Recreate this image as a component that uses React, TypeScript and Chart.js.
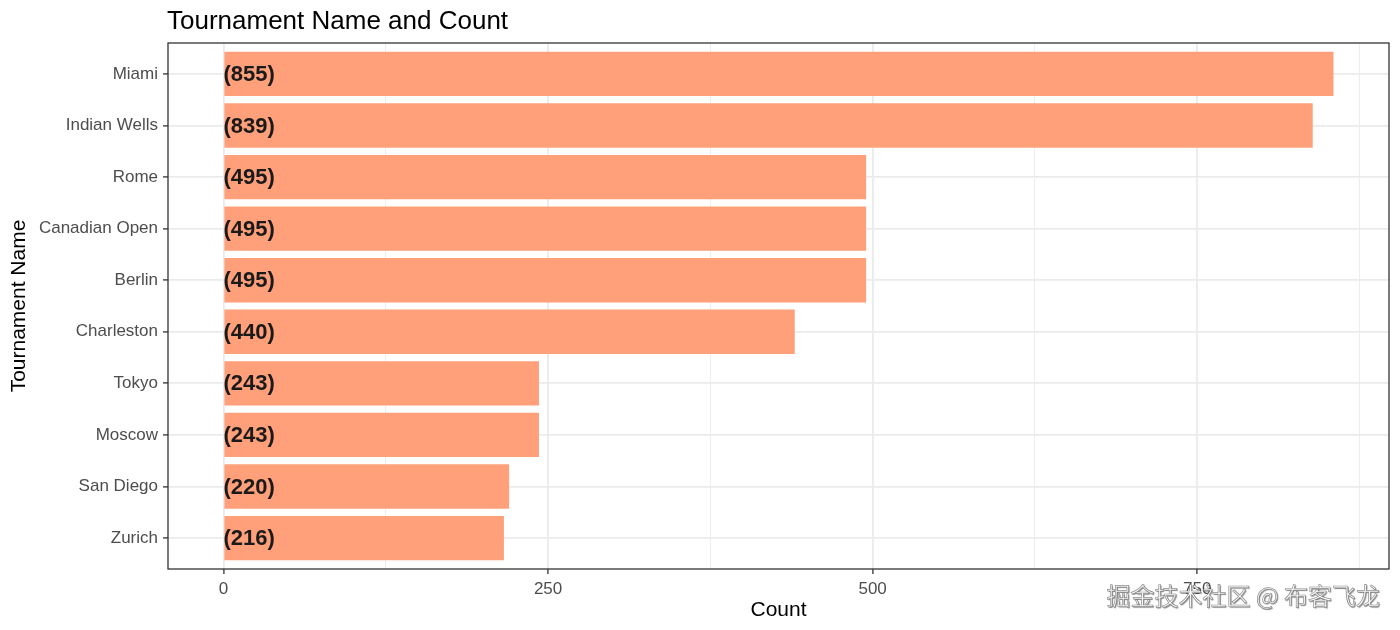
import React, { useEffect, useRef } from 'react';
import { Chart, registerables } from 'chart.js';
Chart.register(...registerables);

const tournaments = ['Miami', 'Indian Wells', 'Rome', 'Canadian Open', 'Berlin', 'Charleston', 'Tokyo', 'Moscow', 'San Diego', 'Zurich'];
const counts = [855, 839, 495, 495, 495, 440, 243, 243, 220, 216];
const xMajorTicks = [0, 250, 500, 750];
const xMinorTicks = [125, 375, 625, 875];
const titleText = 'Tournament Name and Count';
const xTitle = 'Count';
const yTitle = 'Tournament Name';
const watermark = '掘金技术社区 @ 布客飞龙';

const FONT = '"Liberation Sans", Arial, sans-serif';

const decorPlugin = {
  id: 'decor',
  afterDatasetsDraw(chart: any) {
    const ctx = chart.ctx;
    const xs = chart.scales.x;
    const meta = chart.getDatasetMeta(0);
    ctx.save();
    ctx.font = `bold 22px ${FONT}`;
    ctx.fillStyle = '#1a1a1a';
    ctx.textBaseline = 'middle';
    ctx.textAlign = 'left';
    const x0 = xs.getPixelForValue(0);
    meta.data.forEach((bar: any, i: number) => {
      ctx.fillText(`(${counts[i]})`, x0, bar.y + 1);
    });
    ctx.restore();
  },
  afterDraw(chart: any) {
    const ctx = chart.ctx;
    const a = chart.chartArea;
    ctx.save();
    ctx.strokeStyle = '#333333';
    ctx.lineWidth = 1.3;
    ctx.strokeRect(a.left, a.top, a.right - a.left, a.bottom - a.top);

    ctx.fillStyle = '#000';
    ctx.font = `26px ${FONT}`;
    ctx.textAlign = 'left';
    ctx.textBaseline = 'alphabetic';
    ctx.fillText(titleText, 167, 29);

    ctx.font = `21px ${FONT}`;
    ctx.textAlign = 'center';
    ctx.textBaseline = 'middle';
    ctx.fillText(xTitle, (a.left + a.right) / 2, 610);

    ctx.save();
    ctx.translate(19, (a.top + a.bottom) / 2);
    ctx.rotate(-Math.PI / 2);
    ctx.fillText(yTitle, 0, 0);
    ctx.restore();

    ctx.font = `24px "Noto Sans CJK SC", sans-serif`;
    ctx.textAlign = 'right';
    ctx.textBaseline = 'middle';
    ctx.shadowColor = 'rgba(0,0,0,0.45)';
    ctx.shadowOffsetX = 1;
    ctx.shadowOffsetY = 1;
    ctx.shadowBlur = 1;
    ctx.fillStyle = '#f7f7f7';
    ctx.fillText(watermark, 1380, 596);
    ctx.shadowColor = 'transparent';
    ctx.strokeStyle = 'rgba(100,100,100,0.7)';
    ctx.lineWidth = 0.7;
    ctx.strokeText(watermark, 1380, 596);
    ctx.restore();
  },
};

export default function App() {
  const ref = useRef<HTMLCanvasElement>(null);
  useEffect(() => {
    const canvas = ref.current;
    if (!canvas) return;
    const isMajor = (v: number) => xMajorTicks.includes(v);
    const chart = new Chart(canvas, {
      type: 'bar',
      data: {
        datasets: [
          {
            data: counts.map((v, i) => ({ x: v, y: i })),
            backgroundColor: '#FFA07A',
            borderWidth: 0,
            barPercentage: 0.86,
            categoryPercentage: 1,
          },
        ],
      },
      options: {
        indexAxis: 'y',
        responsive: false,
        animation: false,
        devicePixelRatio: 1,
        layout: { padding: { top: 43, right: 11, left: 0, bottom: 0 } },
        plugins: { legend: { display: false }, tooltip: { enabled: false }, title: { display: false } },
        scales: {
          x: {
            type: 'linear',
            min: -42.75,
            max: 897.75,
            offset: false,
            afterBuildTicks: (s: any) => {
              s.ticks = [...xMajorTicks, ...xMinorTicks].sort((p, q) => p - q).map((v) => ({ value: v }));
            },
            afterFit: (s: any) => {
              s.height = 61;
            },
            ticks: {
              callback: (v: any) => (isMajor(Number(v)) ? String(v) : ''),
              autoSkip: false,
              maxRotation: 0,
              color: '#4D4D4D',
              font: { family: FONT, size: 17 },
              padding: 5,
            },
            grid: {
              offset: false,
              color: '#EBEBEB',
              lineWidth: (c: any) => (c.tick && isMajor(c.tick.value) ? 1.8 : 0.9),
              tickLength: 5,
              tickColor: (c: any) => (c.tick && isMajor(c.tick.value) ? '#333333' : 'rgba(0,0,0,0)'),
              tickWidth: 1.3,
            },
            border: { display: false },
          },
          y: {
            type: 'linear',
            reverse: true,
            min: -0.6,
            max: 9.6,
            offset: false,
            afterBuildTicks: (s: any) => {
              s.ticks = tournaments.map((_, i) => ({ value: i }));
            },
            afterFit: (s: any) => {
              s.width = 168;
            },
            ticks: {
              callback: (v: any) => tournaments[Number(v)] ?? '',
              autoSkip: false,
              color: '#4D4D4D',
              font: { family: FONT, size: 17 },
              padding: 5,
            },
            grid: {
              offset: false,
              color: '#EBEBEB',
              lineWidth: 1.8,
              tickLength: 5,
              tickColor: '#333333',
              tickWidth: 1.3,
            },
            border: { display: false },
          },
        },
      },
      plugins: [decorPlugin],
    } as any);
    return () => chart.destroy();
  }, []);
  return (
    <div style={{ position: 'absolute', left: 0, top: 0, width: 1400, height: 630, background: '#fff' }}>
      <canvas ref={ref} width={1400} height={630} style={{ display: 'block' }} />
    </div>
  );
}
